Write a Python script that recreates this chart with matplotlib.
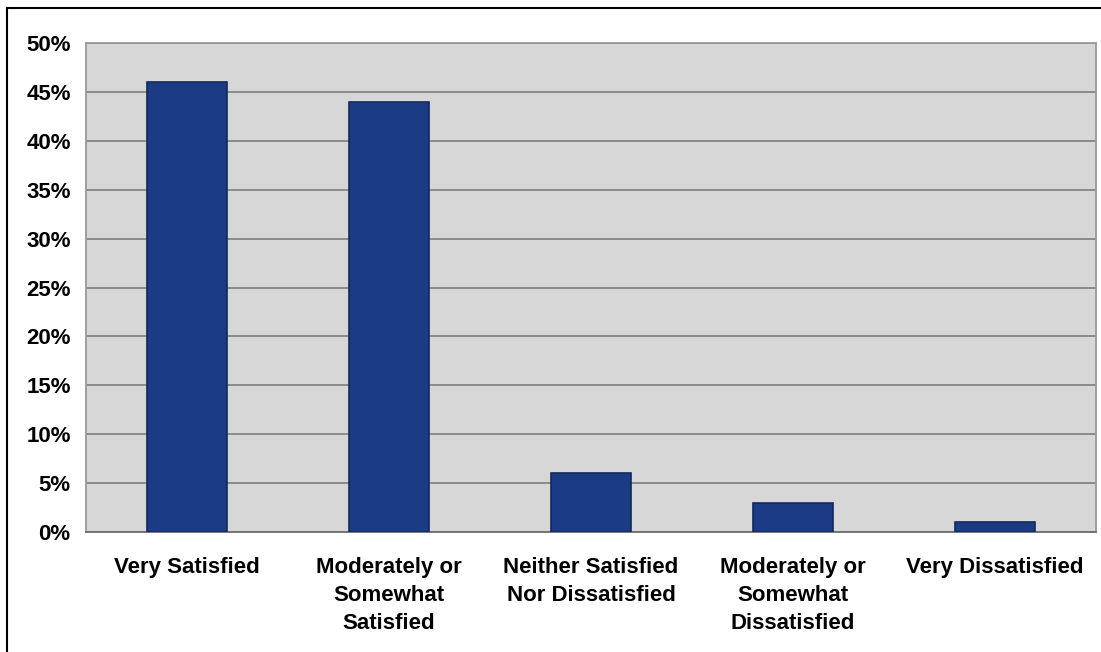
import matplotlib
matplotlib.use("Agg")
import matplotlib.pyplot as plt
import matplotlib.ticker as mtick
from matplotlib.lines import Line2D

# Survey answers
categories = ["Very Satisfied", "Moderately or\nSomewhat\nSatisfied",
              "Neither Satisfied\nNor Dissatisfied", "Moderately or\nSomewhat\nDissatisfied",
              "Very Dissatisfied"]
percent = [46, 44, 6, 3, 1]
yticks = [0, 5, 10, 15, 20, 25, 30, 35, 40, 45, 50]

plt.rcParams['font.family'] = ['Liberation Sans', 'DejaVu Sans']

fig = plt.figure(figsize=(11.01, 6.52), dpi=100)
ax = fig.add_axes([86/1101, 120/652, 1010/1101, 489/652])

ax.set_facecolor("#d7d7d7")
ax.bar(range(len(categories)), percent, width=0.4, color="#1b3c85",
       edgecolor="#122a5c", linewidth=1.2, zorder=3)

ax.set_xlim(-0.5, len(categories) - 0.5)
ax.set_ylim(0, 50)
ax.set_yticks(yticks)
ax.yaxis.set_major_formatter(mtick.FormatStrFormatter('%d%%'))
ax.set_xticks(range(len(categories)))
ax.set_xticklabels(categories, fontsize=16, fontweight='bold', linespacing=1.45)
for lbl in ax.get_yticklabels():
    lbl.set_fontsize(16)
    lbl.set_fontweight('bold')

ax.tick_params(axis='y', length=0, pad=11)
ax.tick_params(axis='x', length=0, pad=18)
ax.yaxis.grid(True, color="#858585", linewidth=1.3, zorder=1)
ax.set_axisbelow(True)

for side in ax.spines.values():
    side.set_color("#9a9a9a")
    side.set_linewidth(1.3)
ax.spines['bottom'].set_color("#6e6e6e")

# outer frame (only top and left edges visible)
fig.add_artist(Line2D([7/1101, 1], [1 - 8/652, 1 - 8/652], color="black", linewidth=1.5))
fig.add_artist(Line2D([7/1101, 7/1101], [0, 1 - 8/652], color="black", linewidth=1.5))

fig.savefig("out.png", dpi=100, facecolor="white")
